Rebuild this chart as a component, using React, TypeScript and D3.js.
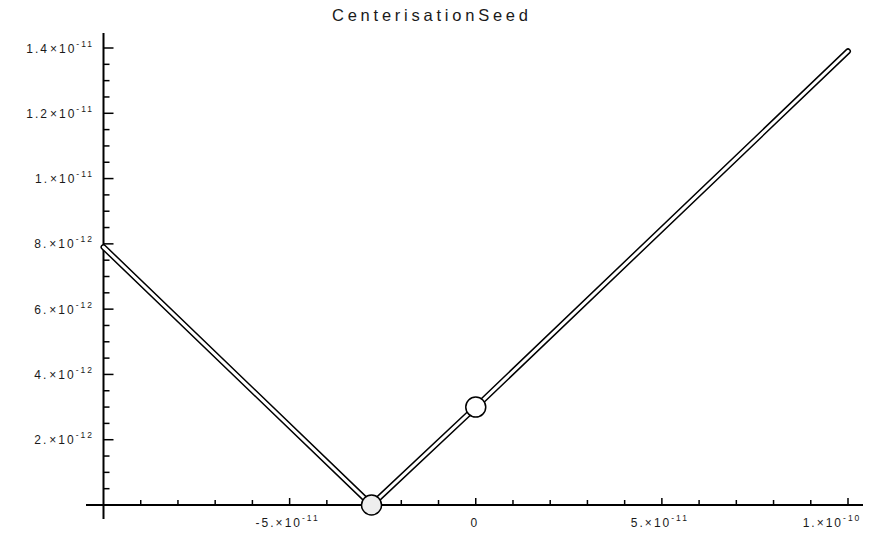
import React from "react";
import * as d3 from "d3";

const title = "CenterisationSeed";
const xValues = [-1e-10, -2.8e-11, 0, 1e-10];
const yValues = [7.9e-12, 0, 3.0e-12, 1.39e-11];
const markerX = [-2.8e-11, 0];
const markerY = [0, 3.0e-12];
const yTickValues = [2e-12, 4e-12, 6e-12, 8e-12, 1e-11, 1.2e-11, 1.4e-11];
const yTickMantissa = ["2.", "4.", "6.", "8.", "1.", "1.2", "1.4"];
const yTickExp = ["-12", "-12", "-12", "-12", "-11", "-11", "-11"];
const xTickValues = [-5e-11, 0, 5e-11, 1e-10];
const xTickMantissa = ["-5.", "0", "5.", "1."];
const xTickExp = ["-11", "", "-11", "-10"];

const W = 885;
const H = 536;

export default function App() {
  const x = d3.scaleLinear().domain([-1e-10, 1e-10]).range([103.5, 848]);
  const y = d3.scaleLinear().domain([0, 1.4e-11]).range([505, 48]);
  const pts: [number, number][] = xValues.map((v, i) => [v, yValues[i]]);
  const line = d3
    .line<[number, number]>()
    .x((d) => x(d[0]))
    .y((d) => y(d[1]));
  const path = line(pts) || "";
  const yMinor = d3.range(5e-13, 1.45e-11, 5e-13);
  const xMinor = d3.range(-9e-11, 1.01e-10, 1e-11);
  const x0 = x(-1e-10);
  const y0 = y(0);
  const lab = { fontFamily: "Liberation Sans, Arial, sans-serif", fill: "#1a1a1a" };

  return (
    <div style={{ position: "absolute", left: 0, top: 0 }}>
      <svg width={W} height={H} style={{ display: "block", background: "#fff" }}>
        <text x={332} y={21} fontSize={16.5} textLength={196} lengthAdjust="spacing" style={lab}>
          {title}
        </text>
        {/* axes */}
        <line x1={86} x2={863} y1={y0} y2={y0} stroke="#000" strokeWidth={2} />
        <line x1={x0} x2={x0} y1={33} y2={519} stroke="#000" strokeWidth={2} />
        {yMinor.map((v, i) => {
          const major = yTickValues.some((t) => Math.abs(t - v) < 1e-14);
          return (
            <line key={"ym" + i} x1={x0} x2={x0 + (major ? 10 : 6)} y1={y(v)} y2={y(v)} stroke="#000" strokeWidth={1.5} />
          );
        })}
        {xMinor.map((v, i) => {
          const major = xTickValues.some((t) => Math.abs(t - v) < 1e-13);
          return (
            <line key={"xm" + i} x1={x(v)} x2={x(v)} y1={y0} y2={y0 - (major ? 7 : 5)} stroke="#000" strokeWidth={1.5} />
          );
        })}
        {yTickValues.map((v, i) => (
          <text key={"yl" + i} x={94} y={y(v) + 4.5} fontSize={12} textAnchor="end" letterSpacing={2} style={lab}>
            {yTickMantissa[i]}
            <tspan dx={1}>×</tspan>
            <tspan>10</tspan>
            <tspan dy={-6} fontSize={8.5}>{yTickExp[i]}</tspan>
          </text>
        ))}
        {xTickValues.map((v, i) => (
          <text key={"xl" + i} x={x(v) + (i === 3 ? -16 : -2)} y={527} fontSize={12} textAnchor="middle" letterSpacing={xTickExp[i] ? 2 : 0} style={lab}>
            {xTickMantissa[i]}
            {xTickExp[i] ? (
              <>
                <tspan>×</tspan>
                <tspan>10</tspan>
                <tspan dy={-6} fontSize={8.5}>{xTickExp[i]}</tspan>
              </>
            ) : null}
          </text>
        ))}
        {/* double line */}
        <path d={path} fill="none" stroke="#000" strokeWidth={6} strokeLinejoin="round" strokeLinecap="round" />
        <path d={path} fill="none" stroke="#fff" strokeWidth={3} strokeLinejoin="round" strokeLinecap="round" />
        {markerX.map((v, i) => (
          <circle key={"mk" + i} cx={x(v)} cy={y(markerY[i])} r={10} fill={i === 0 ? "#eee" : "#fff"} stroke="#000" strokeWidth={1.5} />
        ))}
      </svg>
    </div>
  );
}
